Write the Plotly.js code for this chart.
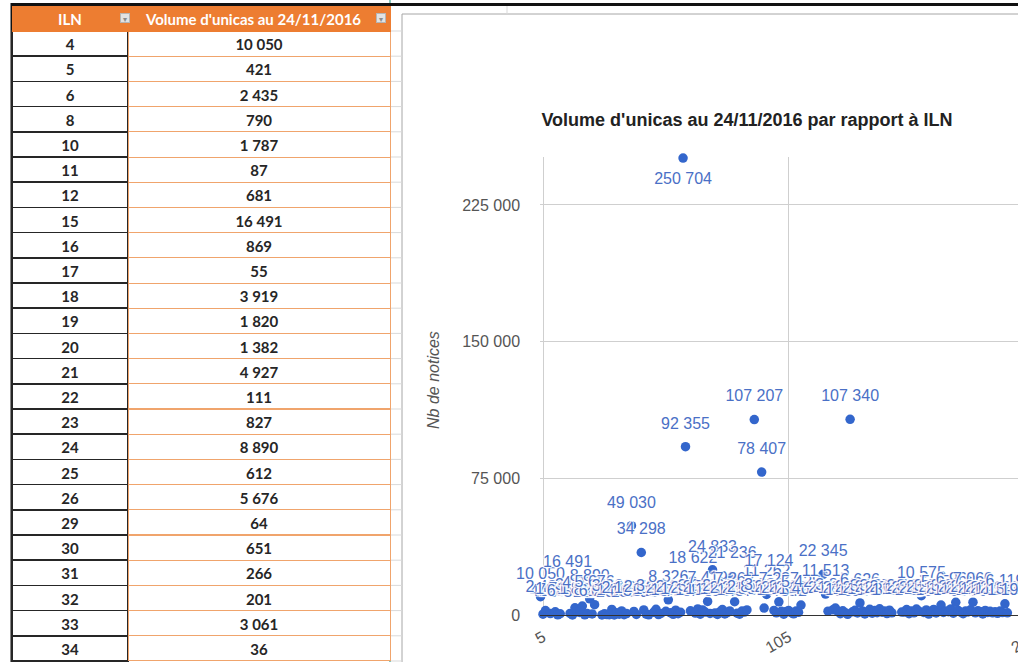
<!DOCTYPE html>
<html>
<head>
<meta charset="utf-8">
<script src="https://cdn.plot.ly/plotly-3.0.1.min.js"></script>
<style>
html, body { margin: 0; padding: 0; overflow: hidden; background: #fff; }
#chart { width: 1060px; height: 662px; }
</style>
</head>
<body>
<div id="chart"></div>
<script>
// ---- Data (table shown on the left) ----
const ilnTable = [4, 5, 6, 8, 10, 11, 12, 15, 16, 17, 18, 19, 20, 21, 22, 23, 24, 25, 26, 29, 30, 31, 32, 33, 34];
const volTable = [10050, 421, 2435, 790, 1787, 87, 681, 16491, 869, 55, 3919, 1820, 1382, 4927, 111, 827, 8890, 612, 5676, 64, 651, 266, 201, 3061, 36];

// ---- Data for the remaining ILN (read/estimated from the chart) ----
const ilnRest = [35, 36, 37, 38, 39, 41, 42, 43, 45, 46, 47, 48, 50, 51, 52, 53, 55, 56, 57, 58, 59, 60, 61, 62, 63,
  65, 66, 67, 68, 69, 70, 71, 72, 73, 74, 75, 76, 77, 78, 79, 80, 81, 82, 83, 84, 85, 86, 87, 88,
  91, 94, 95, 96, 97, 99, 100, 101, 102, 103, 104, 105, 106, 107, 108, 109, 110,
  119, 120, 121, 123, 124, 125, 126, 127, 128, 129, 130, 131, 132, 133, 134, 135, 136, 137, 138, 139, 140,
  141, 142, 143, 144, 145, 146, 147, 151, 152, 153, 154, 155, 156, 157, 158, 159, 160, 161, 162, 163, 164,
  165, 166, 167, 168, 169, 170, 171, 172, 173, 174, 175, 176, 177, 178, 179, 180, 181, 182, 183, 184, 185,
  186, 187, 188, 189, 190, 191, 192, 193, 194];
const volRest = [1250, 412, 2210, 158, 760, 49030, 1934, 325, 34298, 2788, 540, 91, 1476, 3120, 208, 867, 2045, 8326, 1189, 344, 2671, 730, 1505, 250704, 92355,
  2287, 18622, 1043, 3315, 476, 2730, 1612, 7419, 865, 24833, 1120, 309, 1734, 2962, 588, 1361, 2204, 21236, 7262, 1016, 437, 2183, 1590, 2806,
  107207, 78407, 3822, 11262, 17124, 2511, 1178, 7227, 2054, 463, 1896, 2476, 1348, 642, 2170, 1467, 5428,
  22345, 11513, 2086, 2865, 3804, 1932, 714, 2313, 1245, 380, 107340, 1741, 2590, 1103, 6626, 2138, 566, 1820, 3131, 977, 2412,
  1296, 3378, 1534, 2215, 810, 2654, 1187, 1637, 1620, 2974, 743, 2140, 1211, 3280, 2096, 10575, 1412, 2763, 503, 1932, 3054,
  1109, 2476, 5474, 1367, 2241, 1780, 3310, 1027, 6968, 2412, 1530, 695, 2127, 1654, 2833, 7060, 1206, 2391, 1817, 606, 2514,
  1403, 2050, 1191, 1778, 925, 2162, 1340, 6119, 1191];

const tableHeaders = ['ILN', "Volume d'unicas au 24/11/2016"];
const chartTitle = "Volume d'unicas au 24/11/2016 par rapport à ILN";
const yTitle = 'Nb de notices';

const iln = ilnTable.concat(ilnRest);
const vol = volTable.concat(volRest);

// ---- Geometry helpers (pixel -> paper) ----
const W = 1060, H = 662;
const fx = p => p / W;
const fy = p => 1 - p / H;
const fmt = v => String(v).replace(/\B(?=(\d{3})+(?!\d))/g, ' ');

const labelFont = 'Liberation Sans, Arial, sans-serif';
const tableFont = 'Lato, Carlito, Calibri, sans-serif';

// markers
const dots = {
  type: 'scatter',
  mode: 'markers',
  x: iln,
  y: vol,
  xaxis: 'x', yaxis: 'y',
  marker: { color: '#3366cc', size: 9.5 },
  cliponaxis: false,
  hoverinfo: 'skip'
};
// data labels (drawn above all dots, spaced a bit further from the dot)
const labels = {
  type: 'scatter',
  mode: 'markers+text',
  x: iln,
  y: vol,
  xaxis: 'x', yaxis: 'y',
  marker: { color: '#3366cc', size: 21, opacity: 0 },
  texttemplate: '%{y:,d}',
  textposition: vol.map(v => v > 200000 ? 'bottom center' : 'top center'),
  textfont: { family: labelFont, size: 16, color: '#4a70c6',
    shadow: '1px 1px 1px #fff, -1px -1px 1px #fff, 1px -1px 1px #fff, -1px 1px 1px #fff' },
  cliponaxis: false,
  hoverinfo: 'skip'
};

const table = {
  type: 'table',
  domain: { x: [fx(12), fx(390)], y: [0, fy(6)] },
  columnwidth: [116, 262],
  header: {
    values: [tableHeaders[0], tableHeaders[1] + '\u00a0\u00a0\u00a0'],
    fill: { color: '#ed7d31' },
    line: { color: '#ed7d31', width: 1 },
    font: { family: tableFont, size: 15, color: '#ffffff', weight: 'bold' },
    height: 25,
    align: 'center'
  },
  cells: {
    values: [ilnTable.map(String), volTable.map(fmt)],
    fill: { color: '#ffffff' },
    line: { color: ['#262626', '#f0a46c'], width: [1.5, 1] },
    font: { family: tableFont, size: 15, color: '#262626', weight: 'bold' },
    height: 25.2,
    align: 'center'
  }
};

// decorative spreadsheet lines
const shapes = [];
shapes.push({ type: 'rect', xref: 'paper', yref: 'paper', x0: fx(402), x1: fx(W + 10), y0: fy(H + 10), y1: fy(14),
  line: { color: '#a6a6a6', width: 1 }, fillcolor: '#ffffff', layer: 'below' });
for (let k = 0; k < 26; k++) {
  const yy = 31 + k * 25.2;
  shapes.push({ type: 'line', xref: 'paper', yref: 'paper', x0: fx(391), x1: fx(402), y0: fy(yy), y1: fy(yy),
    line: { color: '#d9d9d9', width: 1 }, layer: 'below' });
}
shapes.push({ type: 'line', xref: 'paper', yref: 'paper', x0: fx(507), x1: fx(507), y0: fy(14), y1: fy(5),
  line: { color: '#d9d9d9', width: 1 }, layer: 'below' });
shapes.push({ type: 'line', xref: 'paper', yref: 'paper', x0: fx(390), x1: fx(390), y0: 0, y1: 1,
  line: { color: '#5fb4a6', width: 1.5 }, layer: 'below' });
shapes.push({ type: 'line', xref: 'paper', yref: 'paper', x0: fx(11), x1: 1, y0: fy(4.5), y1: fy(4.5),
  line: { color: '#111111', width: 3 }, layer: 'below' });
shapes.push({ type: 'line', xref: 'paper', yref: 'paper', x0: fx(12), x1: fx(12), y0: 0, y1: fy(3),
  line: { color: '#111111', width: 3 }, layer: 'below' });

const annotations = [
  { text: yTitle, xref: 'paper', yref: 'paper', x: fx(433), y: fy(380), textangle: -90, showarrow: false,
    font: { family: labelFont, size: 16, color: '#555555', style: 'italic' } },
  { text: '▾', xref: 'paper', yref: 'paper', x: fx(119.5), y: fy(13), showarrow: false, width: 8, height: 8,
    bgcolor: '#e2e2e2', bordercolor: '#b5b5b5', borderpad: 0, font: { size: 8, color: '#8a8a8a' } },
  { text: '▾', xref: 'paper', yref: 'paper', x: fx(380.5), y: fy(13), showarrow: false, width: 8, height: 8,
    bgcolor: '#e2e2e2', bordercolor: '#b5b5b5', borderpad: 0, font: { size: 8, color: '#8a8a8a' } }
];

const xLeftPx = 540.05, xRightPx = 1034.4;
const layout = {
  width: W, height: H,
  margin: { l: 0, r: 0, t: 0, b: 0 },
  paper_bgcolor: '#ffffff',
  plot_bgcolor: 'rgba(0,0,0,0)',
  showlegend: false,
  separators: ', ',
  title: {
    text: chartTitle,
    x: fx(747), xanchor: 'center', xref: 'paper',
    y: fy(120), yanchor: 'middle', yref: 'paper',
    font: { family: labelFont, size: 18, color: '#222222', weight: 'bold' }
  },
  xaxis: {
    domain: [fx(xLeftPx), fx(xRightPx)],
    range: [3.8, 205],
    tick0: 5, dtick: 100,
    tickangle: -30,
    showgrid: true, gridcolor: '#cfcfcf', gridwidth: 1,
    zeroline: false,
    showline: true, linecolor: '#333333', linewidth: 1,
    ticks: '',
    ticklabelstandoff: 6,
    tickfont: { family: labelFont, size: 16, color: '#555555' },
    fixedrange: true
  },
  yaxis: {
    domain: [fy(615), fy(157)],
    range: [0, 251300],
    tick0: 0, dtick: 75000,
    tickformat: ',d',
    showgrid: true, gridcolor: '#cfcfcf', gridwidth: 1,
    zeroline: false, showline: false,
    ticks: '',
    ticklabelstandoff: 19,
    tickfont: { family: labelFont, size: 16, color: '#555555' },
    fixedrange: true
  },
  shapes: shapes,
  annotations: annotations
};

Plotly.newPlot('chart', [table, dots, labels], layout, { displayModeBar: false, staticPlot: true });
</script>
</body>
</html>
